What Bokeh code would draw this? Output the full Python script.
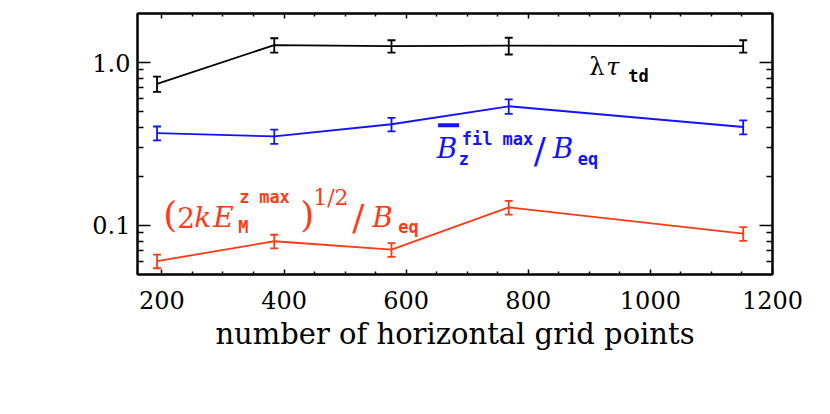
from bokeh.plotting import figure
from bokeh.models import (Range1d, LinearAxis, LogAxis, FixedTicker, Label, Whisker,
                          TeeHead, ColumnDataSource, PrintfTickFormatter)
from bokeh.embed import file_html
from bokeh.resources import INLINE

# ---------------- data ----------------
grid_points = [192, 384, 576, 768, 1152]

lambda_tau = [0.74, 1.28, 1.26, 1.27, 1.26]
lambda_tau_err = [0.08, 0.13, 0.11, 0.15, 0.11]

b_fil = [0.369, 0.352, 0.418, 0.539, 0.402]
b_fil_err = [0.036, 0.035, 0.040, 0.055, 0.040]

e_mag = [0.0604, 0.080, 0.071, 0.129, 0.089]
e_mag_err = [0.0058, 0.0077, 0.0068, 0.0125, 0.0086]

x_tick_values = [200, 400, 600, 800, 1000, 1200]
x_tick_labels = ["200", "400", "600", "800", "1000", "1200"]
x_minor_ticks = [250, 300, 350, 450, 500, 550, 650, 700, 750,
                 850, 900, 950, 1050, 1100, 1150]
y_tick_values = [0.1, 1.0]
y_tick_labels = ["0.1", "1.0"]
y_minor_ticks = [0.06, 0.07, 0.08, 0.09, 0.2, 0.3, 0.4, 0.5, 0.6, 0.7, 0.8, 0.9]
x_label = "number of horizontal grid points"

# ---------------- style ----------------
BLACK = "#000000"
BLUE = "#1212ff"
RED = "#ff3a14"
SERIF = "DejaVu Serif"
SUB = "DejaVu Sans Mono"
MID = 0.346  # distance from baseline to the middle of the font box, in em

p = figure(width=830, height=414, x_range=Range1d(160, 1200), y_range=Range1d(0.05, 2.0),
           y_axis_type="log", output_backend="svg", toolbar_location=None,
           min_border_left=137, min_border_right=58, min_border_top=13, min_border_bottom=140)
p.xgrid.visible = False
p.ygrid.visible = False
p.outline_line_color = "black"
p.outline_line_width = 2
p.background_fill_color = "white"
p.border_fill_color = "white"


def style_axis(ax, tick_in, minor_in):
    ax.axis_line_color = "black"
    ax.axis_line_width = 2
    ax.major_tick_in = tick_in
    ax.major_tick_out = 0
    ax.minor_tick_in = minor_in
    ax.minor_tick_out = 0
    ax.major_tick_line_width = 1.5
    ax.minor_tick_line_width = 1.5
    ax.major_tick_line_color = "black"
    ax.minor_tick_line_color = "black"
    ax.major_label_text_font = SERIF
    ax.major_label_text_font_size = "24px"
    ax.major_label_text_color = "black"


x_ticker = FixedTicker(ticks=x_tick_values, minor_ticks=x_minor_ticks)
y_ticker = FixedTicker(ticks=y_tick_values, minor_ticks=y_minor_ticks)

xa = p.xaxis[0]
xa.ticker = x_ticker
xa.major_label_overrides = dict(zip(x_tick_values, x_tick_labels))
style_axis(xa, 5, 3)
xa.major_label_standoff = 16
xa.axis_label = x_label
xa.axis_label_text_font = SERIF
xa.axis_label_text_font_size = "29px"
xa.axis_label_text_font_style = "normal"
xa.axis_label_text_color = "black"
xa.axis_label_standoff = 5

ya = p.yaxis[0]
ya.ticker = y_ticker
ya.formatter = PrintfTickFormatter(format="%.1f")
ya.major_label_overrides = dict(zip(y_tick_values, y_tick_labels))
style_axis(ya, 13, 6)
ya.major_label_standoff = 7

# mirrored tick marks on top and right, without labels
top = LinearAxis(ticker=FixedTicker(ticks=x_tick_values, minor_ticks=x_minor_ticks))
style_axis(top, 5, 3)
top.major_label_overrides = {v: "" for v in x_tick_values}
top.major_label_standoff = 0
p.add_layout(top, "above")

right = LogAxis(ticker=FixedTicker(ticks=y_tick_values, minor_ticks=y_minor_ticks))
style_axis(right, 13, 6)
right.major_label_overrides = {v: "" for v in y_tick_values}
right.major_label_standoff = 0
p.add_layout(right, "right")

# ---------------- series ----------------
for ys, errs, color in [(lambda_tau, lambda_tau_err, BLACK),
                        (b_fil, b_fil_err, BLUE),
                        (e_mag, e_mag_err, RED)]:
    src = ColumnDataSource(dict(x=grid_points, y=ys,
                                lo=[v - e for v, e in zip(ys, errs)],
                                hi=[v + e for v, e in zip(ys, errs)]))
    p.line("x", "y", source=src, line_color=color, line_width=1.8)
    p.add_layout(Whisker(source=src, base="x", lower="lo", upper="hi",
                         line_color=color, line_width=1.8,
                         upper_head=TeeHead(size=8, line_color=color, line_width=1.8),
                         lower_head=TeeHead(size=8, line_color=color, line_width=1.8)))

# ---------------- labels ----------------
def add_text_group(ax_, ay_, color, pieces):
    for text, dx, dy, font, size, style in pieces:
        p.add_layout(Label(x=ax_, y=ay_, x_offset=dx, y_offset=dy + MID * size, text=text,
                           text_font=font, text_font_size=f"{size}px",
                           text_font_style=style, text_color=color,
                           text_baseline="middle", text_align="left"))


add_text_group(900, 0.836, BLACK, [
    ("λ", 0, 0, SERIF, 24, "normal"),
    ("τ", 17, 0, SERIF, 24, "italic"),
    ("td", 39, -7, SUB, 17, "bold"),
])

add_text_group(650, 0.2585, BLUE, [
    ("B", 0, 0, SERIF, 28, "italic"),
    ("z", 22, -7, SUB, 17, "bold"),
    ("fil max", 25, 13, SUB, 17, "bold"),
    ("/", 97, -5, SERIF, 36, "normal"),
    ("B", 116, 0, SERIF, 28, "italic"),
    ("eq", 141, -7, SUB, 17, "bold"),
])
# overbar of the filtered field symbol
p.scatter(x=[669.5], y=[0.412], marker="dash", size=21, line_width=4, line_color=BLUE)

add_text_group(202, 0.0975, RED, [
    ("(", 0, 0, SERIF, 36, "normal"),
    ("2", 14, 0, SERIF, 28, "normal"),
    ("k", 31, 0, SERIF, 28, "italic"),
    ("E", 50, 0, SERIF, 28, "italic"),
    ("z", 76, 24, SUB, 17, "bold"),
    ("max", 96, 24, SUB, 17, "bold"),
    ("M", 75, -6, SUB, 17, "bold"),
    (")", 137, 0, SERIF, 36, "normal"),
    ("1/2", 150, 22, SERIF, 22, "normal"),
    ("/", 189, -3, SERIF, 36, "normal"),
    ("B", 209, 0, SERIF, 28, "italic"),
    ("eq", 235, -6, SUB, 17, "bold"),
])

open("out.html", "w").write(file_html(p, INLINE))
